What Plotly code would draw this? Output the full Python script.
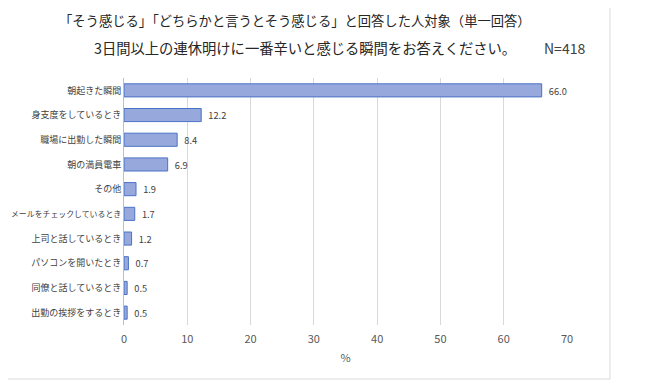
import plotly.graph_objects as go

categories = ["朝起きた瞬間", "身支度をしているとき", "職場に出勤した瞬間", "朝の満員電車", "その他",
              "メールをチェックしているとき", "上司と話しているとき", "パソコンを開いたとき",
              "同僚と話しているとき", "出勤の挨拶をするとき"]
values = [66.0, 12.2, 8.4, 6.9, 1.9, 1.7, 1.2, 0.7, 0.5, 0.5]
x_ticks = [0, 10, 20, 30, 40, 50, 60, 70]
title_line1 = "「そう感じる」「どちらかと言うとそう感じる」と回答した人対象（単一回答）"
title_line2 = "3日間以上の連休明けに一番辛いと感じる瞬間をお答えください。"
n_label = "N=418"

# page has an 8px body margin; figure coordinates = page pixels - 8
OFF = 8
W, H = 650 - OFF, 382 - OFF
ML = 124 - OFF
MR = W - (567 - OFF)
MT = 78 - OFF
MB = H - (325 - OFF)
PW = W - ML - MR
PH = H - MT - MB

def px_x(p):
    return (p - OFF - ML) / PW

def px_y(p):
    return (H - MB - (p - OFF)) / PH

FONT = "Noto Sans CJK JP"

# long labels get a slightly smaller size so they fit the left margin
tick_text = [c if len(c) <= 11 else f'<span style="font-size:7.9px">{c}</span>' for c in categories]

fig = go.Figure(go.Bar(
    x=values, y=categories, orientation="h",
    marker=dict(color="#97A8DC", line=dict(color="#4A72C6", width=1)),
    text=values, texttemplate="  %{x:.1f}", textposition="outside",
    textfont=dict(size=12, color="#404040", family=FONT),
    cliponaxis=False,
))

fig.update_layout(
    width=W, height=H,
    margin=dict(l=ML, r=MR, t=MT, b=MB, autoexpand=False),
    paper_bgcolor="white", plot_bgcolor="white",
    font=dict(family=FONT, color="#404040"),
    bargap=0.47,
    showlegend=False,
    xaxis=dict(range=[0, 70], tickvals=x_ticks, showgrid=True, gridcolor="#D9D9D9",
               gridwidth=1, zeroline=False, showline=False, automargin=False,
               ticklabelstandoff=6,
               tickfont=dict(size=11, color="#595959"),
               title=dict(text="%", font=dict(size=11, color="#595959"), standoff=9)),
    yaxis=dict(autorange="reversed", showgrid=False, showline=True, linecolor="#BFBFBF",
               linewidth=1, ticks="", automargin=False,
               tickvals=categories, ticktext=tick_text,
               tickfont=dict(size=9, color="#404040")),
    shapes=[dict(type="rect", xref="paper", yref="paper",
                 x0=px_x(1), x1=px_x(610), y0=px_y(379), y1=px_y(0.5),
                 line=dict(color="#D9D9D9", width=1), fillcolor="rgba(0,0,0,0)", layer="below")],
    annotations=[
        dict(text=title_line1, xref="paper", yref="paper", x=px_x(295), y=px_y(20),
             xanchor="center", yanchor="middle", showarrow=False,
             font=dict(size=13.3, color="#262626", family=FONT)),
        dict(text=title_line2, xref="paper", yref="paper", x=px_x(305), y=px_y(48),
             xanchor="center", yanchor="middle", showarrow=False,
             font=dict(size=14.3, color="#262626", family=FONT)),
        dict(text=n_label, xref="paper", yref="paper", x=px_x(542), y=px_y(48),
             xanchor="left", yanchor="middle", showarrow=False,
             font=dict(size=14, color="#404040", family=FONT)),
    ],
)

fig.write_html("out.html")
